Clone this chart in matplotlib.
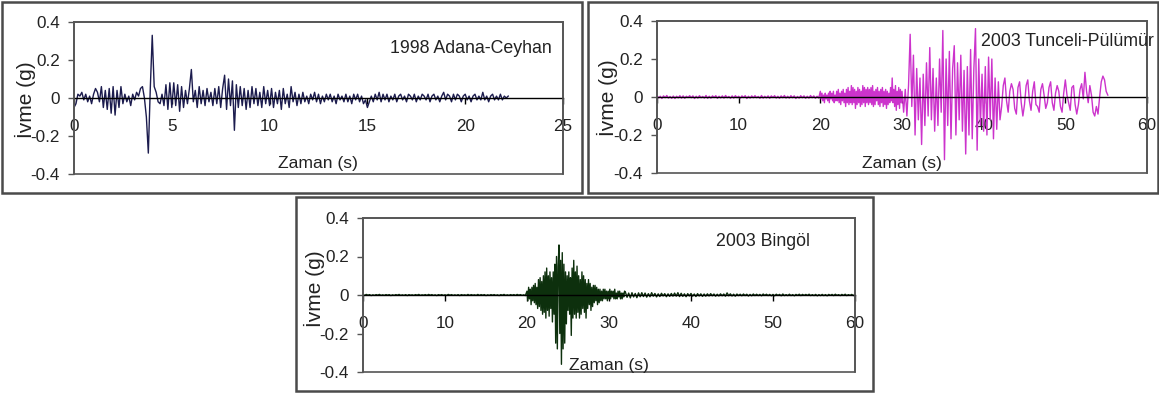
import numpy as np
import matplotlib
matplotlib.use("Agg")
import matplotlib.pyplot as plt
from matplotlib.patches import Rectangle

plt.rcParams['font.family'] = ['Liberation Sans', 'DejaVu Sans']

# ---------------- data (acceleration in g) ----------------
# each record is given as segments: (start time s, sample step s, values g)
adana_title = "1998 Adana-Ceyhan"
adana_start, adana_dt = 0.0, 0.1
adana_ivme = [
    -0.05, -0.03, 0.02, 0.01, 0.03, -0.01, 0.02, -0.02, 0.01, -0.03,
    0.02, 0.05, 0.03, -0.02, 0.06, -0.05, 0.04, -0.06, 0.05, -0.08,
    0.06, -0.09, 0.04, -0.05, 0.06, -0.03, 0.02, -0.02, 0.01, -0.04,
    0.02, -0.01, 0.03, 0.01, 0.05, 0.06, 0.0, -0.1, -0.29, 0.05,
    0.33, 0.06, 0.03, -0.02, -0.03, 0.02, -0.04, 0.07, -0.06, 0.08,
    -0.05, 0.08, -0.04, 0.07, -0.07, 0.06, -0.05, 0.04, -0.03, 0.05,
    0.15, -0.02, 0.04, -0.05, 0.06, -0.03, 0.04, -0.04, 0.05, -0.02,
    0.03, -0.04, 0.05, -0.03, 0.06, -0.05, 0.05, 0.12, -0.06, 0.1,
    -0.04, 0.09, -0.17, 0.07, -0.05, 0.06, -0.04, 0.05, -0.06, 0.04,
    -0.05, 0.06, -0.03, 0.05, -0.04, 0.03, -0.05, 0.06, -0.03, 0.04,
    -0.04, 0.05, -0.05, 0.03, -0.03, 0.04, -0.06, 0.05, -0.03, 0.02,
    -0.05, 0.06, -0.02, 0.03, -0.04, 0.02, -0.03, 0.03, -0.02, 0.01,
    -0.03, 0.02, -0.01, 0.03, -0.02, 0.02, -0.03, 0.01, -0.02, 0.02,
    -0.01, 0.02, -0.02, 0.01, -0.03, 0.02, -0.01, 0.01, -0.02, 0.02,
    -0.02, 0.01, -0.03, 0.02, -0.01, 0.02, -0.02, 0.01, -0.03, -0.01,
    -0.05, -0.02, 0.01, -0.02, 0.02, -0.01, 0.03, -0.02, 0.02, -0.01,
    0.02, -0.02, 0.01, -0.01, 0.02, -0.02, 0.01, 0.02, -0.01, 0.01,
    -0.02, 0.02, 0.01, -0.01, 0.02, -0.02, 0.01, -0.01, 0.02, 0.01,
    -0.01, 0.02, -0.02, 0.01, 0.02, -0.01, 0.01, -0.02, 0.01, 0.03,
    -0.01, 0.02, 0.01, -0.02, 0.02, -0.01, 0.02, 0.01, -0.02, 0.01,
    0.02, -0.01, 0.01, -0.02, 0.01, 0.02, -0.01, 0.01, -0.01, 0.03,
    -0.01, 0.01, -0.02, 0.01, 0.02, -0.01, 0.01, -0.01, 0.02, -0.01,
    0.01, 0.0, 0.01,
]

tunceli_title = "2003 Tunceli-Pülümür"
tunceli_start_a, tunceli_dt_a = 0.0, 0.2      # 0 - 20 s
tunceli_ivme_a = [
    0.007, -0.005, 0.004, -0.008, 0.006, -0.004, 0.008, -0.006, 0.003, -0.007,
    0.005, -0.008, 0.004, -0.005, 0.007, -0.006, 0.006, -0.007, 0.004, -0.003,
    0.007, -0.004, 0.006, -0.008, 0.004, -0.006, 0.007, -0.004, 0.003, -0.006,
    0.008, -0.007, 0.004, -0.006, 0.006, -0.003, 0.007, -0.007, 0.004, -0.005,
    0.006, -0.006, 0.008, -0.004, 0.003, -0.007, 0.006, -0.006, 0.007, -0.004,
    0.004, -0.007, 0.006, -0.003, 0.007, -0.008, 0.004, -0.006, 0.006, -0.004,
    0.007, -0.004, 0.003, -0.007, 0.008, -0.006, 0.004, -0.005, 0.006, -0.007,
    0.006, -0.003, 0.007, -0.006, 0.004, -0.007, 0.006, -0.004, 0.008, -0.006,
    0.004, -0.006, 0.007, -0.004, 0.006, -0.008, 0.003, -0.006, 0.007, -0.004,
    0.006, -0.007, 0.004, -0.006, 0.008, -0.004, 0.006, -0.007, 0.004, -0.006,
]
tunceli_start_b, tunceli_dt_b = 20.0, 0.1     # 20 - 30 s
tunceli_ivme_b = [
    0.03, -0.01, 0.02, -0.02, 0.01, -0.03, 0.02, -0.01, 0.01, -0.02,
    0.02, -0.03, 0.03, -0.01, 0.02, -0.02, 0.03, -0.03, 0.01, -0.02,
    0.03, -0.02, 0.04, -0.03, 0.02, -0.04, 0.03, -0.02, 0.04, -0.03,
    0.02, -0.05, 0.04, -0.03, 0.05, -0.04, 0.03, -0.03, 0.06, -0.04,
    0.05, -0.03, 0.04, -0.06, 0.03, -0.04, 0.05, -0.03, 0.04, -0.05,
    0.03, -0.04, 0.06, -0.03, 0.05, -0.05, 0.04, -0.03, 0.05, -0.04,
    0.04, -0.03, 0.05, -0.04, 0.06, -0.05, 0.03, -0.04, 0.04, -0.02,
    0.05, -0.04, 0.03, -0.05, 0.04, -0.03, 0.05, -0.05, 0.03, -0.04,
    0.04, -0.06, 0.03, -0.04, 0.02, -0.03, 0.05, -0.02, 0.1, -0.03,
    0.04, -0.05, 0.06, -0.07, 0.03, -0.04, 0.05, -0.06, 0.04, -0.03,
]
tunceli_start_c, tunceli_dt_c = 30.0, 0.2     # 30 - 55.2 s
tunceli_ivme_c = [
    0.03, -0.08, 0.04, -0.1, 0.06, 0.33, -0.05, 0.22, -0.2, 0.15,
    -0.12, 0.1, -0.25, 0.12, -0.15, 0.18, -0.1, 0.26, -0.12, 0.15,
    -0.18, 0.1, -0.15, 0.2, -0.08, 0.35, -0.33, 0.2, -0.15, 0.24,
    -0.22, 0.15, 0.27, -0.2, 0.18, -0.12, 0.22, -0.18, 0.14, -0.3,
    0.16, -0.2, 0.25, -0.22, 0.15, 0.36, -0.28, 0.2, -0.15, 0.12,
    -0.18, 0.16, -0.2, 0.21, -0.12, 0.2, -0.22, 0.1, -0.17, 0.08,
    -0.12, -0.05, 0.06, 0.1, -0.02, -0.08, 0.03, 0.07, 0.04, -0.06,
    -0.09, 0.05, 0.08, -0.03, -0.1, -0.04, 0.06, 0.09, -0.02, -0.07,
    0.03, 0.08, -0.04, -0.05, -0.08, 0.04, 0.07, 0.01, -0.06, -0.03,
    0.05, 0.08, -0.03, -0.07, 0.02, 0.06, 0.03, -0.05, -0.08, 0.02,
    0.09, 0.01, -0.03, -0.07, 0.05, 0.06, -0.04, -0.09, -0.04, 0.04,
    0.07, -0.01, 0.13, 0.03, -0.03, 0.06, 0.01, -0.08, -0.1, -0.05,
    -0.09, 0.0, 0.08, 0.11, 0.09, 0.03, 0.01,
]

bingol_title = "2003 Bingöl"
bingol_start_a, bingol_dt_a = 0.0, 0.2        # 0 - 20 s
bingol_ivme_a = [
    0.002, -0.002, 0.003, -0.001, 0.002, -0.003, 0.001, -0.002, 0.002, -0.001,
    0.003, -0.002, 0.001, -0.002, 0.002, -0.001, 0.002, -0.003, 0.001, -0.002,
    0.002, -0.001, 0.003, -0.002, 0.001, -0.002, 0.002, -0.003, 0.002, -0.001,
    0.001, -0.002, 0.002, -0.001, 0.003, -0.002, 0.001, -0.001, 0.002, -0.002,
    0.003, -0.001, 0.002, -0.002, 0.001, -0.003, 0.002, -0.001, 0.002, -0.002,
    0.001, -0.002, 0.003, -0.001, 0.002, -0.002, 0.001, -0.002, 0.002, -0.003,
    0.002, -0.001, 0.001, -0.002, 0.003, -0.002, 0.002, -0.001, 0.001, -0.002,
    0.003, -0.002, 0.002, -0.001, 0.002, -0.003, 0.001, -0.002, 0.002, -0.001,
    0.002, -0.002, 0.001, -0.003, 0.002, -0.001, 0.003, -0.002, 0.001, -0.002,
    0.002, -0.001, 0.002, -0.002, 0.003, -0.001, 0.002, -0.002, 0.001, -0.003,
]
bingol_start_b, bingol_dt_b = 20.0, 0.1       # 20 - 32 s
bingol_ivme_b = [
    0.02, -0.03, 0.04, -0.02, 0.03, -0.05, 0.04, -0.03, 0.05, -0.04,
    0.06, -0.05, 0.04, -0.07, 0.08, -0.06, 0.09, -0.08, 0.07, -0.1,
    0.1, -0.09, 0.12, -0.12, 0.14, -0.08, 0.1, -0.11, 0.12, -0.07,
    0.09, -0.14, 0.12, -0.1, 0.16, -0.25, 0.2, -0.28, 0.15, 0.26,
    -0.2, 0.18, -0.36, 0.22, -0.28, 0.16, -0.25, 0.12, -0.15, 0.1,
    -0.08, 0.12, -0.1, 0.09, -0.21, 0.14, -0.12, 0.18, -0.1, 0.12,
    -0.12, 0.15, -0.09, 0.1, -0.12, 0.08, -0.1, 0.12, -0.07, 0.1,
    -0.09, 0.08, -0.12, 0.06, -0.07, 0.08, -0.05, 0.06, -0.08, 0.04,
    -0.06, 0.05, -0.04, 0.05, -0.03, 0.04, -0.05, 0.03, -0.04, 0.03,
    -0.03, 0.02, -0.03, 0.03, -0.02, 0.03, -0.02, 0.02, -0.03, 0.02,
    -0.02, 0.03, -0.02, 0.02, -0.01, 0.02, -0.02, 0.03, -0.02, 0.01,
    -0.02, 0.02, -0.01, 0.02, -0.02, 0.01, -0.02, 0.01, -0.01, 0.02,
]
bingol_start_c, bingol_dt_c = 32.0, 0.2       # 32 - 60 s
bingol_ivme_c = [
    0.015, -0.012, 0.01, -0.015, 0.012, -0.01, 0.008, -0.014, 0.011, -0.009,
    0.012, -0.008, 0.01, -0.011, 0.007, -0.009, 0.012, -0.006, 0.008, -0.01,
    0.006, -0.008, 0.009, -0.005, 0.007, -0.009, 0.006, -0.007, 0.008, -0.006,
    0.01, -0.006, 0.012, -0.008, 0.009, -0.007, 0.006, -0.009, 0.007, -0.005,
    0.008, -0.006, 0.005, -0.008, 0.007, -0.005, 0.006, -0.007, 0.005, -0.006,
    0.006, -0.005, 0.007, -0.004, 0.005, -0.006, 0.004, -0.005, 0.006, -0.004,
    0.005, -0.006, 0.011, -0.004, 0.006, -0.005, 0.004, -0.006, 0.005, -0.003,
    0.004, -0.004, 0.005, -0.003, 0.004, -0.005, 0.003, -0.004, 0.005, -0.003,
    0.004, -0.003, 0.003, -0.004, 0.005, -0.002, 0.004, -0.003, 0.003, -0.004,
    0.003, -0.004, 0.004, -0.002, 0.003, -0.004, 0.005, -0.003, 0.002, -0.003,
    0.004, -0.003, 0.002, -0.004, 0.003, -0.002, 0.004, -0.003, 0.003, -0.002,
    0.003, -0.002, 0.004, -0.003, 0.002, -0.003, 0.003, -0.004, 0.002, -0.003,
    0.003, -0.003, 0.002, -0.004, 0.003, -0.002, 0.003, -0.003, 0.004, -0.002,
    0.002, -0.003, 0.003, -0.002, 0.004, -0.003, 0.002, -0.002, 0.003, -0.003,
    0.002,
]

y_ticks = [-0.4, -0.2, 0.0, 0.2, 0.4]
y_ticklabels = ["-0.4", "-0.2", "0", "0.2", "0.4"]
x_label = "Zaman (s)"
y_label = "İvme (g)"


def series(segments):
    ts, vs = [], []
    for start, dt, vals in segments:
        v = np.asarray(vals, dtype=float)
        ts.append(start + np.arange(len(v)) * dt)
        vs.append(v)
    return np.concatenate(ts), np.concatenate(vs)


# ---------------- figure ----------------
W, H = 1159, 394
fig = plt.figure(figsize=(W / 100, H / 100), dpi=100)


def fx(px):
    return px / W


def fy(py):
    return 1 - py / H


def box(x0, y0, x1, y1):
    fig.add_artist(Rectangle((fx(x0), fy(y1)), fx(x1) - fx(x0), fy(y0) - fy(y1),
                             transform=fig.transFigure, fill=False,
                             ec='#4a4a4a', lw=1.8))


panels = [
    dict(segs=[(adana_start, adana_dt, adana_ivme)], title=adana_title,
         color='#1c1c4e', lw=1.0,
         xmax=25, xticks=[0, 5, 10, 15, 20, 25],
         ax=(74, 22, 563, 174), outer=(2, 2, 582, 193),
         title_xy=(16.15, 0.235), ylab=(25, 100), xlab_y=0.041),
    dict(segs=[(tunceli_start_a, tunceli_dt_a, tunceli_ivme_a),
               (tunceli_start_b, tunceli_dt_b, tunceli_ivme_b),
               (tunceli_start_c, tunceli_dt_c, tunceli_ivme_c)],
         title=tunceli_title, color='#cc33cc', lw=1.0,
         xmax=60, xticks=[0, 10, 20, 30, 40, 50, 60],
         ax=(657, 21, 1147, 173), outer=(588, 2, 1158, 193),
         title_xy=(39.67, 0.266), ylab=(607, 98), xlab_y=0.035),
    dict(segs=[(bingol_start_a, bingol_dt_a, bingol_ivme_a),
               (bingol_start_b, bingol_dt_b, bingol_ivme_b),
               (bingol_start_c, bingol_dt_c, bingol_ivme_c)],
         title=bingol_title, color='#0d300d', lw=1.0,
         xmax=60, xticks=[0, 10, 20, 30, 40, 50, 60],
         ax=(363, 218, 855, 372), outer=(296, 197, 873, 391),
         title_xy=(43.05, 0.252), ylab=(314, 289), xlab_y=0.013),
]

for p in panels:
    box(*p['outer'])
    l, t, r, b = p['ax']
    ax = fig.add_axes([fx(l), fy(b), fx(r) - fx(l), fy(t) - fy(b)])
    times, vals = series(p['segs'])
    ax.plot(times, vals, color=p['color'], lw=p['lw'], zorder=2)
    ax.set_xlim(0, p['xmax'])
    ax.set_ylim(-0.4, 0.4)

    # frame
    for s in ['left', 'top', 'right']:
        ax.spines[s].set_color('#555555')
        ax.spines[s].set_linewidth(1.2)
    ax.spines['bottom'].set_position(('data', 0))
    ax.spines['bottom'].set_color('black')
    ax.spines['bottom'].set_linewidth(1.0)
    ax.spines['bottom'].set_zorder(3)
    ax.add_patch(Rectangle((0, 0), 1, 1, transform=ax.transAxes, fill=False,
                           ec='#555555', lw=1.2, clip_on=False, zorder=4))

    ax.set_yticks(y_ticks)
    ax.set_yticklabels(y_ticklabels)
    ax.set_xticks(p['xticks'])
    ax.set_xticklabels([str(v) for v in p['xticks']])
    ax.tick_params(axis='y', direction='out', length=4, width=1, color='#555555',
                   pad=6, labelsize=12.3, labelcolor='#222222')
    ax.tick_params(axis='x', direction='out', length=4, width=1, color='black',
                   pad=11, labelsize=12.3, labelcolor='#222222')

    ax.text(p['title_xy'][0], p['title_xy'][1], p['title'], fontsize=12.8,
            ha='left', va='baseline', color='#222222', zorder=5)
    ax.text(0.5, p['xlab_y'], x_label, transform=ax.transAxes, fontsize=12.6,
            ha='center', va='baseline', color='#222222', zorder=5)
    fig.text(fx(p['ylab'][0]), fy(p['ylab'][1]), y_label, rotation=90,
             fontsize=15, ha='center', va='center', color='#222222')

fig.savefig('out.png', dpi=100)
